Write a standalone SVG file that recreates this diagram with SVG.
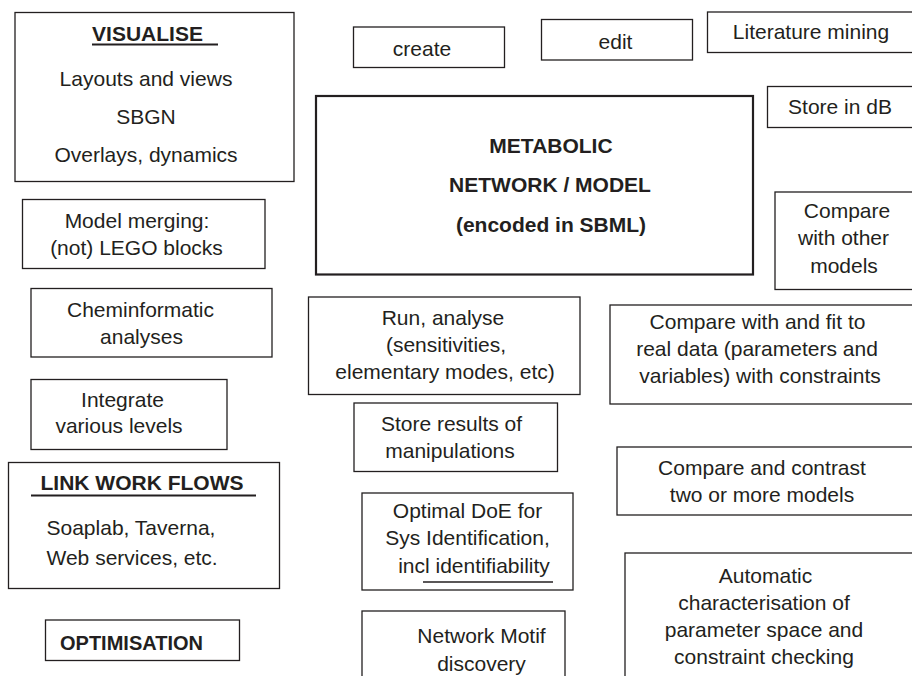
<svg xmlns="http://www.w3.org/2000/svg" width="912" height="676" viewBox="0 0 912 676">
<style>
rect{fill:none;stroke:#231f20;stroke-width:1.3}
rect.main{stroke-width:2.2}
text{font-family:"Liberation Sans",Arial,Helvetica,sans-serif;font-size:21px;fill:#231f20;text-anchor:middle}
text.b{font-weight:bold}
text.l{text-anchor:start}
line{stroke:#231f20;stroke-width:2}
line.thin{stroke-width:1.4}
</style>
<rect x="0" y="0" width="912" height="676" style="fill:#fff;stroke:none"/>
<g id="visualise">
<rect x="15" y="12.5" width="279" height="169"/>
<text class="b" x="147.5" y="41">VISUALISE</text>
<line x1="92" y1="44.5" x2="218" y2="44.5"/>
<text x="146" y="85.5">Layouts and views</text>
<text x="146" y="124">SBGN</text>
<text x="146" y="162">Overlays, dynamics</text>
</g>
<g id="create">
<rect x="353.5" y="27" width="151" height="40.5"/>
<text x="422" y="55.5">create</text>
</g>
<g id="edit">
<rect x="541.5" y="19.5" width="151" height="40.5"/>
<text x="615.5" y="48.5">edit</text>
</g>
<g id="literature">
<rect x="707.5" y="12" width="210" height="40.5"/>
<text x="811" y="38.5">Literature mining</text>
</g>
<g id="storedb">
<rect x="767.5" y="86.5" width="150" height="41"/>
<text x="840" y="113.5">Store in dB</text>
</g>
<g id="metabolic">
<rect class="main" x="316" y="96" width="437" height="178.5"/>
<text class="b" x="551" y="153">METABOLIC</text>
<text class="b" x="550" y="192">NETWORK / MODEL</text>
<text class="b" x="551" y="232">(encoded in SBML)</text>
</g>
<g id="compareother">
<rect x="775" y="192" width="142" height="97.5"/>
<text x="847" y="218">Compare</text>
<text x="843.5" y="245">with other</text>
<text x="844" y="272.5">models</text>
</g>
<g id="merging">
<rect x="22.5" y="199.5" width="242.5" height="69"/>
<text x="137" y="228">Model merging:</text>
<text x="136.5" y="255">(not) LEGO blocks</text>
</g>
<g id="cheminformatic">
<rect x="31" y="288.5" width="241" height="68.5"/>
<text x="140.5" y="316.5">Cheminformatic</text>
<text x="141.5" y="343.5">analyses</text>
</g>
<g id="integrate">
<rect x="31" y="379.5" width="196" height="70"/>
<text x="122.5" y="406.5">Integrate</text>
<text x="119" y="433">various levels</text>
</g>
<g id="linkworkflows">
<rect x="8.5" y="462.5" width="271" height="126"/>
<text class="b l" x="40.5" y="489.5">LINK WORK FLOWS</text>
<line x1="31" y1="495.5" x2="256" y2="495.5"/>
<text class="l" x="46.5" y="535">Soaplab, Taverna,</text>
<text class="l" x="46.5" y="565">Web services, etc.</text>
</g>
<g id="optimisation">
<rect x="45.5" y="620" width="194" height="40.5"/>
<text class="b l" x="60" y="649.5" style="font-size:20px">OPTIMISATION</text>
</g>
<g id="runanalyse">
<rect x="308.5" y="297" width="271.5" height="97.5"/>
<text x="443" y="325">Run, analyse</text>
<text x="446" y="352">(sensitivities,</text>
<text x="445" y="379">elementary modes, etc)</text>
</g>
<g id="storeresults">
<rect x="354" y="403" width="203.5" height="68.5"/>
<text x="451.5" y="431">Store results of</text>
<text x="450" y="458">manipulations</text>
</g>
<g id="optimaldoe">
<rect x="362" y="493" width="211" height="97"/>
<text x="467.5" y="517.5">Optimal DoE for</text>
<text x="467.5" y="545">Sys Identification,</text>
<text x="474" y="572.5">incl identifiability</text>
<line class="thin" x1="423" y1="582" x2="553" y2="582"/>
</g>
<g id="networkmotif">
<rect x="362" y="611" width="203" height="80"/>
<text x="481.5" y="643">Network Motif</text>
<text x="481.5" y="671">discovery</text>
</g>
<g id="comparefit">
<rect x="610" y="305" width="307" height="99"/>
<text x="757.5" y="328.5">Compare with and fit to</text>
<text x="757" y="356">real data (parameters and</text>
<text x="760" y="383">variables) with constraints</text>
</g>
<g id="comparecontrast">
<rect x="617" y="447" width="300" height="68"/>
<text x="762" y="475">Compare and contrast</text>
<text x="762" y="502">two or more models</text>
</g>
<g id="automatic">
<rect x="625" y="553" width="292" height="140"/>
<text x="765.5" y="583">Automatic</text>
<text x="764" y="610">characterisation of</text>
<text x="764" y="637">parameter space and</text>
<text x="764" y="664">constraint checking</text>
</g>
<g id="connectors"/>
</svg>
